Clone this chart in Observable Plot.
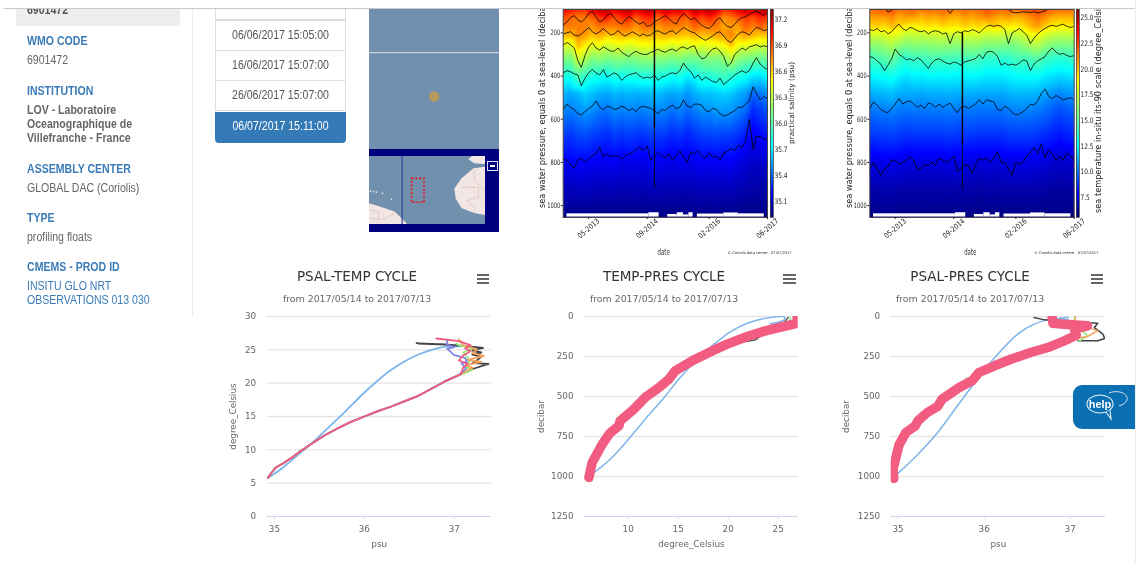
<!DOCTYPE html>
<html>
<head>
<meta charset="utf-8">
<script src="https://cdn.jsdelivr.net/npm/d3@7"></script>
<script src="https://cdn.jsdelivr.net/npm/@observablehq/plot@0.6"></script>
<style>
html,body{margin:0;padding:0;background:#fff;overflow:hidden}
#page{position:relative;width:1136px;height:563px;overflow:hidden;font-family:"Liberation Sans",Arial,sans-serif;filter:blur(.45px)}
#page svg{position:absolute;background:transparent;overflow:hidden}
.t{position:absolute;left:0;top:0;white-space:nowrap;transform-origin:0 0}
.box{position:absolute}
</style>
</head>
<body>
<div id="page"></div>
<script>
// ---------- sidebar / list text ----------
const sidebarHeads = [["WMO CODE",41],["INSTITUTION",91],["ASSEMBLY CENTER",169],["TYPE",218],["CMEMS - PROD ID",267]];
const sidebarValues = [["6901472",60,false],["GLOBAL DAC (Coriolis)",188,false],["profiling floats",237,false]];
const sidebarBold = [["LOV - Laboratoire",110],["Oceanographique de",124],["Villefranche - France",138]];
const sidebarLinks = [["INSITU GLO NRT",286],["OBSERVATIONS 013 030",300]];
const cycleDates = [["06/06/2017 15:05:00",35],["16/06/2017 15:07:00",65],["26/06/2017 15:07:00",95]];
const selectedDate = "06/07/2017 15:11:00";
const subtitle = "from 2017/05/14 to 2017/07/13";

// ---------- heat-map data ----------
const depths = [92,130,170,210,260,320,400,480,560,680,800,920,1050];
const gridMonths = ["2012-10","2012-12","2013-02","2013-04","2013-06","2013-08","2013-10","2013-12","2014-02","2014-04","2014-06","2014-08","2014-10","2014-12","2015-02","2015-04","2015-06","2015-08","2015-10","2015-12","2016-02","2016-04","2016-06","2016-08","2016-10","2016-12","2017-02","2017-04","2017-06"];
const psalGrid = [
[37.1,37.0,36.95,36.95,37.1,37.2,37.25,37.1,37.2,37.25,37.1,37.2,37.25,37.05,37.2,37.1,37.15,37.05,37.25,37.15,37.25,37.15,36.95,37.0,37.1,37.2,37.15,37.25,37.2],
[36.88,36.83,36.78,36.78,36.83,36.93,36.98,36.88,36.93,36.98,36.83,36.93,36.98,36.8,36.93,36.88,36.88,36.83,36.98,36.88,36.98,36.88,36.73,36.78,36.88,36.93,36.88,36.98,36.93],
[36.77,36.77,36.77,36.77,36.72,36.8,36.77,36.77,36.8,36.82,36.72,36.8,36.82,36.7,36.77,36.77,36.77,36.72,36.84,36.77,36.8,36.77,36.67,36.72,36.7,36.84,36.77,36.84,36.77],
[36.65,36.65,36.75,36.7,36.62,36.68,36.6,36.62,36.66,36.65,36.62,36.66,36.64,36.62,36.66,36.65,36.62,36.6,36.66,36.62,36.64,36.68,36.7,36.76,36.62,36.7,36.65,36.6,36.62],
[36.38,36.36,36.62,36.5,36.4,36.42,36.34,36.38,36.42,36.36,36.4,36.44,36.44,36.42,36.4,36.36,36.4,36.36,36.42,36.38,36.4,36.42,36.46,36.6,36.42,36.4,36.36,36.33,36.36],
[36.12,36.1,36.34,36.25,36.12,36.15,36.1,36.12,36.14,36.1,36.12,36.16,36.16,36.14,36.12,36.1,36.12,36.08,36.06,36.1,36.14,36.1,36.16,36.28,36.14,36.1,36.08,36.05,36.07],
[35.8,35.78,35.96,35.88,35.8,35.78,35.75,35.82,35.78,35.8,35.82,35.82,35.84,35.82,35.8,35.76,35.8,35.7,35.74,35.84,35.84,35.88,35.92,35.86,35.8,35.76,35.68,35.66,35.74],
[35.58,35.55,35.58,35.64,35.6,35.56,35.54,35.58,35.56,35.58,35.56,35.58,35.58,35.6,35.56,35.54,35.56,35.5,35.56,35.6,35.6,35.62,35.64,35.62,35.56,35.52,35.4,35.44,35.48],
[35.47,35.44,35.48,35.52,35.48,35.44,35.42,35.47,35.45,35.47,35.46,35.45,35.48,35.47,35.46,35.42,35.46,35.4,35.44,35.49,35.49,35.52,35.52,35.5,35.46,35.4,35.26,35.3,35.36],
[35.3,35.28,35.32,35.33,35.3,35.28,35.26,35.3,35.28,35.3,35.28,35.27,35.3,35.29,35.28,35.25,35.27,35.24,35.27,35.3,35.3,35.32,35.3,35.3,35.27,35.22,35.14,35.18,35.2],
[35.16,35.16,35.18,35.17,35.16,35.15,35.14,35.16,35.13,35.14,35.14,35.12,35.16,35.15,35.14,35.13,35.15,35.13,35.14,35.16,35.15,35.16,35.15,35.16,35.12,35.1,35.06,35.07,35.08],
[35.04,35.04,35.05,35.05,35.04,35.03,35.03,35.04,35.02,35.03,35.03,35.02,35.04,35.03,35.03,35.02,35.03,35.02,35.03,35.04,35.03,35.04,35.03,35.04,35.02,35.01,35.0,35.0,35.0],
[34.94,34.94,34.94,34.94,34.94,34.93,34.93,34.94,34.93,34.93,34.93,34.93,34.94,34.93,34.93,34.93,34.93,34.93,34.93,34.94,34.93,34.94,34.93,34.93,34.93,34.92,34.92,34.92,34.92]];
const tempGrid = [
[21.6,21.8,21.9,22.2,21.4,21.6,21.8,21.3,21.6,21.4,21.8,21.5,21.3,21.7,21.4,21.6,22.2,21.8,21.5,21.9,21.4,21.7,22,22.4,22.2,21.7,21.5,21.6,21.4],
[20.4,20.6,20.5,21,20.2,20.5,20.4,20,20.4,20.2,20.6,20.2,20.1,20.6,20.3,20.6,20.9,20.6,20.2,20.5,20.1,20.3,20.9,21.4,20.8,20.2,20,20.1,20],
[19.4,19.6,19.3,20.0,19.3,19.0,18.8,19.0,19.2,19.0,19.4,19.2,19.1,19.6,19.2,19.5,19.0,19.5,19.2,19.0,18.9,19.3,20.0,20.6,19.6,19.0,18.8,18.9,18.9],
[17.6,17.6,17.8,18.2,17.9,17.2,17.4,17.2,17.5,17.4,17.6,17.5,17.3,17.8,17.6,17.6,17.3,17.4,17.3,17.2,17.1,17.6,18.4,18.6,17.6,17.3,17.1,17.2,17.3],
[15.9,16.0,16.3,16.8,16.1,15.5,15.9,15.8,15.9,16.0,16.1,16.0,15.8,16.0,16.1,16.0,15.6,15.7,15.6,15.4,15.5,16.0,16.6,16.9,16.0,15.6,15.5,15.5,15.6],
[14.0,14.2,14.6,15.0,14.1,13.5,14.0,14.0,14.2,14.3,14.1,14.2,14.0,14.1,14.3,14.1,13.6,13.7,13.6,13.6,14.2,14.2,14.3,14.7,13.9,13.6,13.4,13.6,13.8],
[12.3,12.5,12.6,12.8,12.3,12.0,12.3,12.2,12.4,12.4,12.3,12.4,12.3,12.3,12.4,12.3,12.1,12.1,12.1,12.3,12.5,12.5,12.6,12.5,12.1,12.0,11.8,11.9,12.0],
[11.0,11.1,11.2,11.3,11.0,10.9,11.0,10.9,11.0,11.0,11.0,11.1,11.0,11.0,11.0,10.9,10.9,10.9,10.9,11.1,11.2,11.2,11.2,11.1,10.8,10.5,10.3,10.5,10.7],
[9.9,10.0,10.1,10.2,10.0,9.9,10.0,9.9,10.0,10.0,10.0,10.1,10.0,9.9,10.0,9.9,9.9,9.9,9.9,10.1,10.2,10.2,10.1,10.0,9.8,9.5,9.2,9.4,9.6],
[8.7,8.8,8.8,8.9,8.8,8.6,8.7,8.7,8.7,8.7,8.7,8.8,8.7,8.7,8.7,8.6,8.6,8.6,8.6,8.8,8.8,8.8,8.8,8.7,8.5,8.3,8.1,8.3,8.4],
[7.4,7.4,7.5,7.5,7.4,7.3,7.3,7.3,7.3,7.3,7.3,7.4,7.3,7.3,7.3,7.2,7.3,7.2,7.3,7.4,7.4,7.4,7.4,7.3,7.2,7.0,6.9,7.0,7.0],
[6.4,6.4,6.5,6.5,6.4,6.4,6.4,6.3,6.4,6.4,6.4,6.4,6.4,6.4,6.4,6.3,6.4,6.3,6.4,6.4,6.4,6.4,6.4,6.4,6.3,6.2,6.2,6.2,6.2],
[5.8,5.8,5.8,5.8,5.8,5.8,5.8,5.7,5.8,5.8,5.8,5.7,5.8,5.7,5.7,5.7,5.7,5.7,5.7,5.8,5.7,5.8,5.7,5.7,5.7,5.7,5.7,5.7,5.7]];

// contour lines (monthly pressure readings, 2012-10 → 2017-06)
const psalC1 = [165,150,130,120,140,150,135,110,100,125,150,140,120,110,130,150,160,140,125,135,150,160,150,170,165,150,140,130,120,135,150,160,130,110,125,140,130,150,165,175,180,165,140,130,155,170,175,160,140,130,125,115,105,100,110,120,105];
const psalC2 = [205,200,195,210,215,205,190,175,195,205,195,180,195,210,205,190,205,215,205,195,205,215,205,215,210,195,190,200,205,195,190,205,190,175,185,195,200,215,225,235,225,215,200,195,215,235,245,225,205,195,200,210,190,175,180,190,185];
const psalC3 = [255,245,255,270,330,360,305,265,245,270,280,265,275,285,285,270,290,300,310,295,285,295,300,300,290,285,275,285,290,280,275,285,270,265,275,265,260,300,320,315,290,275,270,285,310,355,340,300,285,270,280,265,260,255,265,260,265];
const psalC4 = [385,375,380,390,395,445,410,385,370,385,395,370,405,395,385,395,420,405,395,390,385,400,410,405,410,395,420,405,400,390,385,390,375,340,365,380,410,395,420,405,415,425,430,410,440,425,410,395,385,375,385,375,340,315,345,360,370];
const psalC5 = [555,530,545,555,575,580,565,550,540,515,545,555,540,545,555,550,540,545,560,550,565,545,540,545,550,560,575,555,560,545,535,550,545,510,540,545,530,530,535,560,565,550,555,575,585,580,570,560,545,545,530,515,450,480,510,495,505];
const psalC6 = [785,790,810,825,790,780,800,785,770,760,730,775,760,775,770,770,785,770,760,755,740,730,745,725,790,770,755,770,780,760,790,770,745,775,800,750,760,745,770,780,755,775,770,790,755,750,735,745,720,730,700,600,740,680,680,690,695];
const tempC1 = [88,85,90,86,80,104,95,85,80,82,88,85,80,78,84,86,88,92,85,80,82,88,110,88,86,84,82,84,85,82,80,86,84,82,80,78,80,84,92,104,108,106,102,104,106,102,108,104,98,90,86,88,84,82,85,90,86];
const tempC2 = [185,190,180,195,190,205,195,175,160,180,190,175,180,190,195,190,205,195,190,195,205,200,250,205,195,200,190,195,185,190,200,185,170,165,170,165,170,185,250,200,190,180,195,210,250,225,205,190,180,170,165,170,165,160,170,175,170];
const tempC3 = [310,315,330,345,375,350,320,275,300,310,325,320,330,315,325,345,365,340,325,320,330,340,345,335,340,350,335,330,325,320,300,320,290,285,290,310,350,340,350,345,350,340,325,330,375,345,330,320,310,285,270,290,300,295,305,310,305];
const tempC4 = [550,520,535,555,565,570,550,530,505,530,520,515,530,545,535,550,525,530,545,530,545,535,525,550,570,545,540,550,540,530,510,530,510,515,520,555,560,540,550,570,580,575,565,550,530,535,515,480,460,495,505,490,500,510,505,500,510];
const tempC5 = [830,800,830,860,830,820,790,790,810,800,790,775,790,830,830,810,815,800,810,780,790,800,790,770,840,830,810,815,850,810,780,790,780,800,780,750,800,800,830,860,800,810,800,770,755,730,760,715,780,740,760,790,770,790,755,770,790];
const contourMonths = d3.utcMonth.range(new Date(Date.UTC(2012,9,1)), new Date(Date.UTC(2017,6,1)));
const xTickMonths = ["2013-05","2014-09","2016-02","2017-06"];
const bottomStrip = [["2012-11-01","2014-09-15",1038],["2014-09-15","2014-12-10",1033],["2015-02-20","2015-05-10",1041],["2015-05-10","2015-07-01",1033],["2015-07-01","2015-08-15",1043],["2015-08-15","2015-09-20",1033],["2015-10-25","2016-06-01",1039],["2016-06-01","2016-10-01",1034],["2016-10-01","2017-05-05",1038]];
const psalSpike = {date:"2014-11-01", thick:[92,640], thin:[640,921]};
const tempSpike = {date:"2014-11-12", thick:[200,720], thin:[720,925]};
const psalTicks = [35.1,35.4,35.7,36.0,36.3,36.6,36.9,37.2];
const tempTicks = [7.5,10,12.5,15,17.5,20,22.5,25];
const jetPos = [0,.11,.34,.5,.65,.89,1];
const jetCol = ["#00007f","#0000ff","#00ffff","#7fff7f","#ffff00","#ff0000","#7f0000"];

// ---------- cycle charts data ----------
const palette = {blue:"#7cb5ec",black:"#434348",green:"#90ed7d",orange:"#f7a35c",purple:"#8085e9",pink:"#f15c80"};
const tsDeep = [[34.93,5.8],[34.97,6.6],[35.02,7.4],[35.1,8],[35.2,8.9],[35.3,9.9],[35.4,10.8],[35.55,12.1],[35.7,13.2],[35.85,14.2],[36.0,15],[36.15,15.8],[36.3,16.5],[36.45,17.3],[36.6,18.1],[36.75,19.2],[36.9,20.3],[37.05,21.2]];
const tsBlue = [[34.93,5.8],[35.1,7.4],[35.25,9.1],[35.4,10.8],[35.55,12.7],[35.7,14.6],[35.85,16.6],[36.0,18.6],[36.15,20.4],[36.3,22],[36.45,23.3],[36.6,24.3],[36.75,25],[36.93,25.55],[37.05,25.5]];
const tsBlack = tsDeep.concat([[37.22,22.2],[37.38,22.9],[37.2,23],[37.25,23.4],[37.3,24],[37.2,24.3],[37.3,24.6],[37.2,24.9],[37.32,25.3],[37.1,25.6],[36.9,25.8],[36.6,25.95],[36.58,26.05]]);
const tsGreen = tsDeep.concat([[37.2,22],[37.12,22.5],[37.17,23.3],[37.14,24],[37.1,24.6],[37.2,25.2],[37.05,25.7],[37.02,26]]);
const tsOrange = tsDeep.concat([[37.2,22.3],[37.13,22.7],[37.3,23.2],[37.15,23.5],[37.33,24.1],[37.2,24.5],[37.25,25],[37.18,25.4],[37.1,25.7],[37.05,26.6]]);
const tsPurple = tsDeep.concat([[37.13,22.2],[37.08,23],[37.14,23.2],[37.12,23.8],[37.0,24.2],[36.95,24.8],[36.92,25.2],[37,25.4],[36.92,25.8],[36.92,26.4]]);
const tsPink = tsDeep.concat([[37.07,21.3],[37.1,22.4],[37.15,22.9],[37.05,23.4],[37.1,24.2],[37.18,24.8],[37.12,25.2],[37.18,25.7],[37.05,26.3],[36.8,26.7]]);

const tpPink = [[6.07,1006],[6.4,912],[7.4,798],[8.17,729],[9.07,683],[9.2,652],[10.57,579],[11.7,506],[13.07,444],[14.07,392],[14.7,340],[16.4,277],[18.4,215],[19.9,173],[21.9,125],[23.7,90],[25.6,62],[26.9,42],[26.9,8]];
const tpBlue = [[6.6,975],[8.2,892],[9.9,777],[11.7,642],[13.6,506],[15.2,381],[16.9,267],[18.6,173],[20.2,96],[21.9,42],[23.6,12],[25.6,2],[25.6,20],[24.2,45]];
const tpBlack = [[21.6,158],[22.7,146],[23.2,125],[24,62],[25.6,37],[26,6]];
const tpGreen = [[5.9,1028],[6.4,1026],[NaN,NaN],[13.1,418],[13.7,385],[NaN,NaN],[26.2,5],[26.2,30]];

const spPink = [[34.95,1012],[34.94,954],[34.97,892],[35.01,804],[35.09,725],[35.2,683],[35.23,652],[35.34,600],[35.46,562],[35.51,517],[35.71,444],[35.86,402],[35.94,350],[36.12,308],[36.31,267],[36.54,225],[36.74,194],[36.93,152],[37.07,117],[37.05,79],[37.2,58],[36.93,48],[36.8,42],[36.79,6]];
const spBlue = [[34.99,985],[35.22,867],[35.46,725],[35.69,558],[35.92,392],[36.16,235],[36.39,110],[36.58,48],[36.74,21],[36.9,12],[36.97,6],[36.97,21],[36.88,6]];
const spBlack = [[36.58,6],[36.7,21],[37.32,42],[37.28,69],[37.38,110],[37.4,137],[37.32,152],[37.09,152]];
const spOrange = [[37.06,2],[37.05,40],[37.32,90],[37.2,125],[37.1,135]];
const spGreen = [[37.05,5],[37.05,40],[37.2,121],[37.1,155],[NaN,NaN],[35.72,425],[35.8,385]];

// ---------- map data ----------
const africaCoast = [[-2.5,33.4],[-8.3,32.4],[-14.2,26.2],[-17.8,20],[-17.2,13.9],[-14.2,7.7],[-7.5,4.6],[-2.5,3.5]];
const iberiaCoast = [[-9,40],[-10.8,38],[-8,35.5],[-2.5,35]];
const americaCoast = [[-60.5,10.8],[-57.5,9.7],[-52.5,7.7],[-47.5,5.6],[-45,2.5],[-41.7,-1.6]];
const islets = [[-60,18.6],[-58.5,18.2],[-57,18],[-54,17.2],[-49.5,13.5]];
const africaBorders = [[[-8.3,32],[-8,25],[-2.5,19]],[[-14.5,21],[-6,21],[-6,15],[-12,12.5]],[[-12,12.5],[-8,8],[-8,5]]];
const americaBorders = [[[-60.5,7],[-56,6],[-56,1]],[[-48,5],[-52,2],[-56,1]],[[-60.5,2],[-56,1]]];
const floatBox = {lon1:-39.2,lon2:-33,lat1:11.4,lat2:26.2};
const floatPos = {lon:-36.12,lat:17};
const graticuleLat = 21.65;
const dateLineLon = -44.2;

// ---------- helpers ----------
const page = document.getElementById("page");
const utc = s => new Date(s.length===7 ? s+"-01T00:00:00Z" : s+"T00:00:00Z");
function place(svg,left,top){svg.style.left=left+"px";svg.style.top=top+"px";page.appendChild(svg);return svg;}
function text(str,x,y,css,rot,sx){
  const d=document.createElement("div");d.className="t";d.textContent=str;
  d.style.cssText+=css||"";
  d.style.transform=`translate(${x}px,${y}px) rotate(${rot||0}deg) scaleX(${sx||1}) translate(-50%,-50%)`;
  page.appendChild(d);return d;
}
function textStart(str,x,y,css,rot,sx){
  const d=document.createElement("div");d.className="t";d.textContent=str;
  d.style.cssText+=css||"";
  d.style.transform=`translate(${x}px,${y}px) rotate(${rot||0}deg) scaleX(${sx||1}) translateY(-50%)`;
  page.appendChild(d);return d;
}
function box(x,y,w,h,css){const d=document.createElement("div");d.className="box";d.style.cssText=`left:${x}px;top:${y}px;width:${w}px;height:${h}px;`+(css||"");page.appendChild(d);return d;}
// the source picture is squeezed horizontally: narrow the tick labels to the same widths
function squeeze(svg,kind,ratio){
  svg.querySelectorAll(`g[aria-label="${kind}-axis tick label"] text`).forEach(t=>{
    const L=t.getComputedTextLength();
    t.setAttribute("textLength",L*ratio);
    t.setAttribute("lengthAdjust","spacingAndGlyphs");
  });
}

// ---------- sidebar ----------
box(16,9,164,17,"background:#eee");
textStart("6901472",27,10,"font-size:12px;color:#555;font-weight:bold",0,.88);
box(192,9,1,307,"background:#eee");
for(const [s,y] of sidebarHeads) textStart(s,27,y,"font-size:12px;font-weight:bold;color:#3b7cb8",0,.88);
for(const [s,y] of sidebarValues) textStart(s,27,y,"font-size:12px;color:#666",0,.88);
for(const [s,y] of sidebarBold) textStart(s,27,y,"font-size:12px;font-weight:bold;color:#666",0,.88);
for(const [s,y] of sidebarLinks) textStart(s,27,y,"font-size:12px;color:#3b7cb8",0,.88);

// ---------- date list ----------
box(215,8,131,12,"background:#fff;border:1px solid #ddd;box-sizing:border-box;border-top:0");
for(const [s,y] of cycleDates){
  box(215,y-15,131,31,"background:#fff;border:1px solid #ddd;box-sizing:border-box");
  text(s,280.5,y,"font-size:12px;color:#555",0,.88);
}
box(215,112,131,31,"background:#337ab7;border-radius:0 0 4px 4px");
text(selectedDate,280.5,126,"font-size:12px;color:#fff",0,.88);

// ---------- map ----------
place(Plot.plot({
  width:130,height:140,margin:0,
  style:{background:"#7190ad"},
  x:{domain:[floatBox.lon1,floatBox.lon2],axis:null},
  y:{domain:[floatBox.lat1,floatBox.lat2],axis:null},
  marks:[
    Plot.ruleY([graticuleLat],{stroke:"#c6d2dd",strokeWidth:1.3}),
    Plot.dot([floatPos],{x:"lon",y:"lat",r:4.6,fill:"#b49a5e",stroke:"#c79a48",strokeWidth:1})
  ]}),369,9);
box(369,149,130,83,"background:#00007f");
place(Plot.plot({
  width:116,height:68,margin:0,
  style:{background:"#7190ad"},
  x:{domain:[-60.5,-2.5],axis:null},
  y:{domain:[-2,40],axis:null},
  marks:[
    Plot.areaX(africaCoast,{y:d=>d[1],x1:d=>d[0],x2:-2.5,fill:"#f1e6e4"}),
    Plot.areaX(iberiaCoast,{y:d=>d[1],x1:d=>d[0],x2:-2.5,fill:"#f1e6e4"}),
    Plot.areaY(americaCoast,{x:d=>d[0],y1:-2,y2:d=>d[1],fill:"#f1e6e4"}),
    Plot.dot(islets,{x:d=>d[0],y:d=>d[1],r:.8,fill:"#f1e6e4"}),
    ...africaBorders.concat(americaBorders).map(b=>Plot.line(b,{x:d=>d[0],y:d=>d[1],stroke:"#d8b9ad",strokeWidth:.6})),
    Plot.ruleX([dateLineLon],{stroke:"#2a3fa0",strokeWidth:1.1}),
    Plot.rect([floatBox],{x1:"lon1",x2:"lon2",y1:"lat1",y2:"lat2",stroke:"#f01010",strokeDasharray:"2 1.8",strokeWidth:1.6,fill:"none"})
  ]}),369,156);
box(487,161,11,10,"border:1px solid #dfe4f5;box-sizing:border-box;background:#00007f");
box(490,165,5,2,"background:#fff");

// ---------- heat maps ----------
const mono = "DejaVu Sans";
function cells(grid){return grid.flatMap((row,r)=>row.map((v,c)=>({date:utc(gridMonths[c]),p:depths[r],v})));}
function heat(o){
  const lo=o.lo,hi=o.hi;
  const color={type:"linear",domain:jetPos.map(t=>lo+t*(hi-lo)),range:jetCol,interpolate:"rgb",clamp:true};
  const xdom=[utc("2012-10"),utc("2017-06")];
  const ml=o.frameLeft-o.left;
  const svgW=o.frameRight-o.left+14;
  const marks=[
    Plot.raster(cells(o.grid),{x:"date",y:"p",fill:"v",interpolate:"barycentric",pixelSize:1}),
    Plot.rect(bottomStrip,{x1:d=>utc(d[0]),x2:d=>utc(d[1]),y1:d=>d[2],y2:1053,fill:"#fff"}),
    ...o.contours.map(c=>Plot.line(contourMonths,{x:d=>d,y:(d,i)=>c[i],stroke:"#000",strokeWidth:.8,clip:true})),
    Plot.ruleX([utc(o.spike.date)],{y1:o.spike.thick[0],y2:o.spike.thick[1],stroke:"#000",strokeWidth:1.5}),
    Plot.ruleX([utc(o.spike.date)],{y1:o.spike.thin[0],y2:o.spike.thin[1],stroke:"#000",strokeWidth:.8}),
    Plot.frame({stroke:"#444",strokeWidth:1}),
    Plot.axisY([200,400,600,800,1000],{anchor:"left",tickSize:2,tickPadding:1,fontSize:7.5,fill:"#222",stroke:"#222",label:null,fontFamily:mono,tickFormat:"d"}),
    Plot.axisX(xTickMonths.map(utc),{anchor:"bottom",tickSize:2,tickRotate:-40,textAnchor:"middle",tickPadding:9,fontSize:7.5,tickFormat:d3.utcFormat("%m-%Y"),fill:"#222",stroke:"#222",label:null,fontFamily:mono})
  ];
  const chart=place(Plot.plot({
    width:svgW,height:262,marginLeft:ml,marginRight:14,marginTop:9,marginBottom:45,
    style:{fontFamily:mono},
    x:{type:"time",domain:xdom,axis:null},
    y:{domain:[1055,92],axis:null},
    color,marks}),o.left,0);
  squeeze(chart,"y",.68);
  squeeze(chart,"x",.83);
  // colour bar
  const step=(hi-lo)/104;
  const bar=d3.range(104).map(i=>lo+i*step);
  const cb=place(Plot.plot({
    width:30,height:262,marginLeft:1,marginRight:26,marginTop:9,marginBottom:45,
    style:{fontFamily:mono},
    x:{domain:[0,1],axis:null},
    y:{domain:[lo,hi],axis:null},
    color,
    marks:[
      Plot.rect(bar,{x1:0,x2:1,y1:d=>d,y2:d=>d+step*1.1,fill:d=>d}),
      Plot.frame({stroke:"#444",strokeWidth:.8}),
      Plot.axisY(o.ticks,{anchor:"right",tickSize:0,tickPadding:1,fontSize:7.5,fill:"#222",label:null,tickFormat:d3.format(".1f"),fontFamily:mono})
    ]}),o.frameRight+1.5,0);
  squeeze(cb,"y",.78);
  const fs=`font-family:${mono};color:#222;`;
  textStart("sea water pressure, equals 0 at sea-level (decibar)",o.leftLabelX,208,fs+"font-size:8.2px",-90);
  text("date",o.frameLeft+101,252,fs+"font-size:8px;color:#333",0,.68);
  text("© Coriolis data centre - 07/07/2017",o.frameLeft+197,252.5,fs+"font-size:3.6px");
}
heat({left:530,frameLeft:562.7,frameRight:767,lo:34.91,hi:37.32,grid:psalGrid,ticks:psalTicks,
  contours:[psalC1,psalC2,psalC3,psalC4,psalC5,psalC6],spike:psalSpike,leftLabelX:541.5});
text("practical salinity (psu)",791,103,`font-family:${mono};color:#222;font-size:7.4px`,-90);
heat({left:835,frameLeft:869.3,frameRight:1073.7,lo:5.58,hi:25.8,grid:tempGrid,ticks:tempTicks,
  contours:[tempC1,tempC2,tempC3,tempC4,tempC5],spike:tempSpike,leftLabelX:848.5});
textStart("sea temperature in-situ its-90 scale (degree_Celsius)",1098,213,`font-family:${mono};color:#222;font-size:8.2px`,-90);

// ---------- cycle charts ----------
const chartFont="DejaVu Sans";
function cycle(o){
  const L=o.frameLeft-o.left, R=o.left+o.w-o.frameRight;
  const grid=Plot.ruleY(o.yTicks.filter(t=>t!==o.axisValue),{stroke:"#e6e6e6",strokeWidth:1.4});
  const series=o.series.map(([arr,col,w,curve])=>Plot.line(arr,{x:d=>d[0],y:d=>d[1],stroke:col,strokeWidth:w,strokeLinejoin:"round",strokeLinecap:"round",curve:curve||"linear",clip:o.clip}));
  place(Plot.plot({
    width:o.w,height:295,marginLeft:L,marginRight:R,marginTop:54,marginBottom:41,
    style:{fontFamily:chartFont},
    x:{domain:o.xDomain,axis:null},
    y:{domain:o.yDomain,axis:null},
    marks:[
      grid,
      Plot.ruleY([o.axisValue],{stroke:"#ccd6eb",strokeWidth:1.2}),
      Plot.axisX(o.xTicks,{anchor:"bottom",tickSize:3,tickPadding:6,fontSize:8.8,fill:"#666",stroke:"#ccd6eb",label:o.xLabel,labelAnchor:"center",labelArrow:"none",labelOffset:30}),
      Plot.axisY(o.yTicks,{anchor:"left",tickSize:0,tickPadding:11,fontSize:8.8,fill:"#666",label:o.yLabel,labelAnchor:"center",labelArrow:"none",labelOffset:o.yLabelOffset,tickFormat:"d"}),
      ...series
    ]}),o.left,262);
  text(o.title,o.cx,275.5,`font-family:${chartFont};font-size:13.5px;color:#333`);
  text(subtitle,o.cx,298,`font-family:${chartFont};font-size:9.4px;color:#666`);
  const bx=o.burger;
  for(const dy of [274,278,282]) box(bx,dy,12.5,2,"background:#666");
}
cycle({title:"PSAL-TEMP CYCLE",cx:357,left:210,w:290,frameLeft:266.7,frameRight:490.7,burger:476.8,
  xDomain:[34.92,37.41],yDomain:[0,30],xTicks:[35,36,37],yTicks:[0,5,10,15,20,25,30],axisValue:0,
  xLabel:"psu",yLabel:"degree_Celsius",yLabelOffset:37,clip:false,
  series:[[tsBlue,palette.blue,1.8,"catmull-rom"],[tsBlack,palette.black,1.8],[tsGreen,palette.green,1.8],[tsOrange,palette.orange,1.8],[tsPurple,palette.purple,1.8],[tsPink,palette.pink,1.8]]});
cycle({title:"TEMP-PRES CYCLE",cx:664,left:520,w:290,frameLeft:584,frameRight:797.7,burger:783.3,
  xDomain:[5.63,27],yDomain:[1250,0],xTicks:[10,15,20,25],yTicks:[0,250,500,750,1000,1250],axisValue:1250,
  xLabel:"degree_Celsius",yLabel:"decibar",yLabelOffset:47,clip:true,
  series:[[tpBlue,palette.blue,1.5,"catmull-rom"],[tpBlack,palette.black,1.3],[tpGreen,palette.green,1.5],[tpPink,palette.pink,9.5]]});
cycle({title:"PSAL-PRES CYCLE",cx:970,left:830,w:290,frameLeft:890.7,frameRight:1105,burger:1090.7,
  xDomain:[34.92,37.41],yDomain:[1250,0],xTicks:[35,36,37],yTicks:[0,250,500,750,1000,1250],axisValue:1250,
  xLabel:"psu",yLabel:"decibar",yLabelOffset:48,clip:true,
  series:[[spBlue,palette.blue,1.5,"catmull-rom"],[spBlack,palette.black,1.5],[spGreen,palette.green,1.5],[spOrange,palette.orange,1.5],[spPink,palette.pink,9.5]]});

// ---------- header bar & help button ----------
box(0,0,1136,8,"background:#fff");
box(4,8,1132,1,"background:#c9c9c9");
box(1073,385,62,44,"background:#0b6fb3;border-radius:9px 0 0 9px");
const help=document.createElementNS("http://www.w3.org/2000/svg","svg");
help.setAttribute("width","50");help.setAttribute("height","40");help.style.left="1082px";help.style.top="389px";
help.innerHTML=`<path d="M27 4c7-3 16-1 18 4 1 4-2 7-8 9" fill="none" stroke="#cfe3f2" stroke-width="1"/><ellipse cx="18" cy="15" rx="13" ry="9" fill="#0b6fb3" stroke="#e8f2f9" stroke-width="1.1"/><path d="M24 23l5 7-1-9" fill="#0b6fb3" stroke="#e8f2f9" stroke-width="1.1"/><text x="18" y="19" text-anchor="middle" fill="#fff" font-family="Liberation Sans" font-weight="bold" font-size="11">help</text>`;
page.appendChild(help);
box(1135,0,1,563,"background:#ececec");
</script>
</body>
</html>
